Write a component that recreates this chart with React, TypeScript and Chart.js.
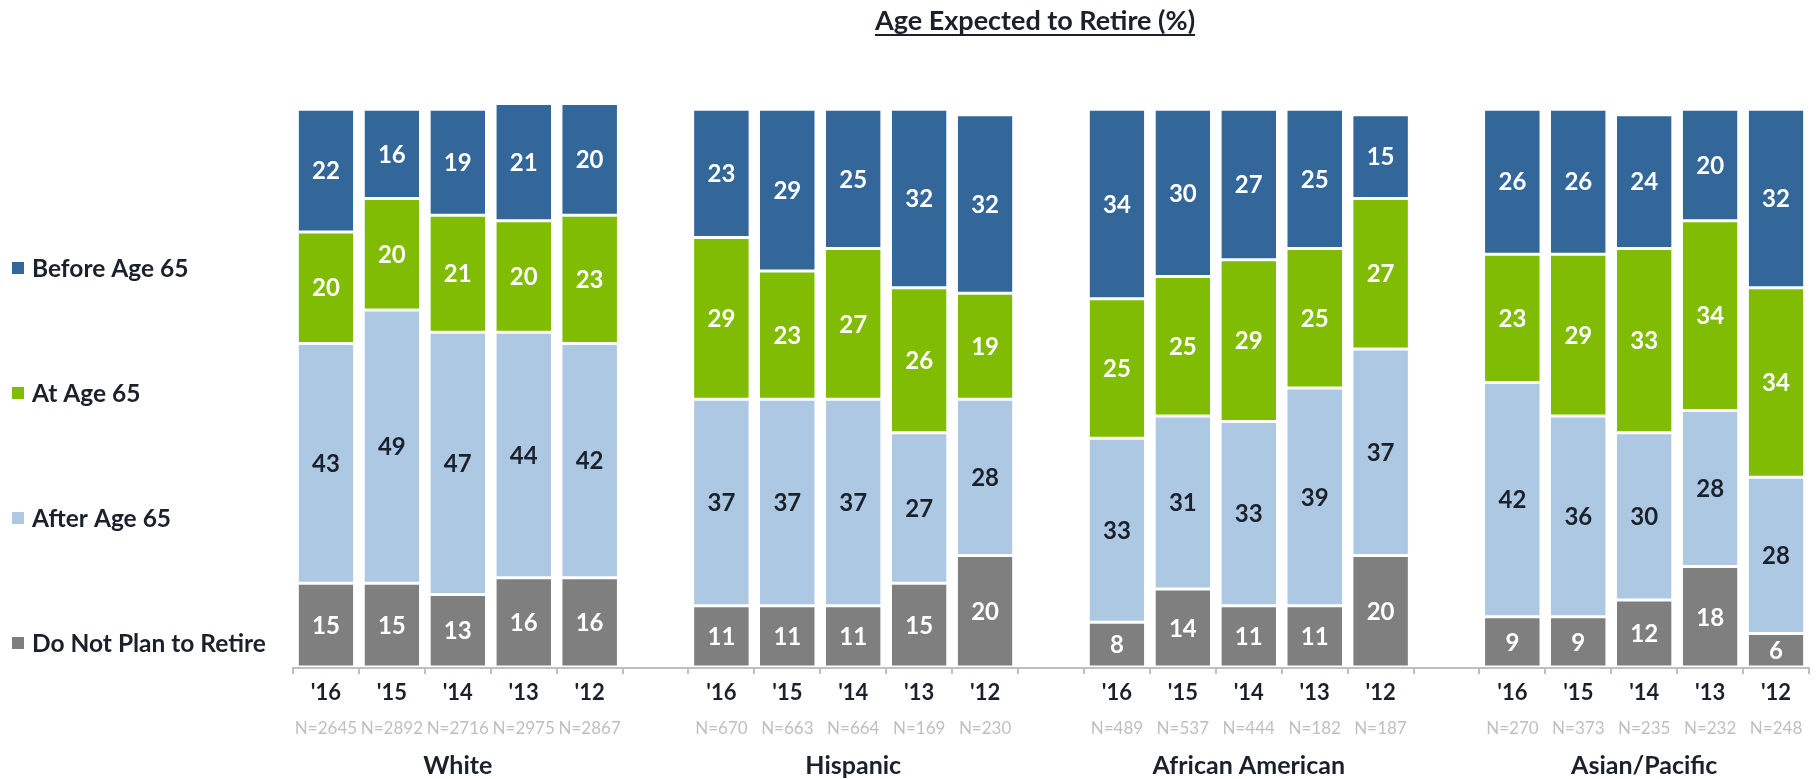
import React, { useEffect, useRef } from "react";
import { Chart, registerables } from "chart.js";

Chart.register(...registerables);

const groups = ["White", "Hispanic", "African American", "Asian/Pacific"];
const years = ["'16", "'15", "'14", "'13", "'12"];
const sampleSizes = [
  ["N=2645", "N=2892", "N=2716", "N=2975", "N=2867"],
  ["N=670", "N=663", "N=664", "N=169", "N=230"],
  ["N=489", "N=537", "N=444", "N=182", "N=187"],
  ["N=270", "N=373", "N=235", "N=232", "N=248"],
];

const beforeAge65 = [
  [22, 16, 19, 21, 20],
  [23, 29, 25, 32, 32],
  [34, 30, 27, 25, 15],
  [26, 26, 24, 20, 32],
];
const atAge65 = [
  [20, 20, 21, 20, 23],
  [29, 23, 27, 26, 19],
  [25, 25, 29, 25, 27],
  [23, 29, 33, 34, 34],
];
const afterAge65 = [
  [43, 49, 47, 44, 42],
  [37, 37, 37, 27, 28],
  [33, 31, 33, 39, 37],
  [42, 36, 30, 28, 28],
];
const doNotPlan = [
  [15, 15, 13, 16, 16],
  [11, 11, 11, 15, 20],
  [8, 14, 11, 11, 20],
  [9, 9, 12, 18, 6],
];

const seriesNames = ["Do Not Plan to Retire", "After Age 65", "At Age 65", "Before Age 65"];
const seriesColors = ["#7F7F7F", "#ADC8E3", "#7FBC03", "#336699"];
const labelColors = ["#FFFFFF", "#1B212B", "#FFFFFF", "#FFFFFF"];

// flatten groups with one empty slot between groups
function flatten<T>(arr: T[][], blank: T): T[] {
  const out: T[] = [];
  arr.forEach((g, i) => {
    if (i > 0) out.push(blank);
    g.forEach((v) => out.push(v));
  });
  return out;
}

const FONT = "Lato, 'Open Sans', sans-serif";
const DARK = "#1B212B";

export default function App() {
  const ref = useRef<HTMLCanvasElement | null>(null);

  useEffect(() => {
    const canvas = ref.current;
    if (!canvas) return;

    const labels = flatten(groups.map(() => years), "");
    const nLabels = flatten(sampleSizes, "");
    const seriesData = [doNotPlan, afterAge65, atAge65, beforeAge65].map((s) =>
      flatten<number | null>(s, null)
    );

    const decor = {
      id: "decor",
      afterDatasetsDraw(chart: any) {
        const ctx = chart.ctx;
        ctx.save();
        ctx.textAlign = "center";
        ctx.textBaseline = "middle";
        ctx.font = `bold 24px ${FONT}`;
        chart.data.datasets.forEach((ds: any, di: number) => {
          const meta = chart.getDatasetMeta(di);
          meta.data.forEach((el: any, i: number) => {
            const v = ds.data[i];
            if (v == null) return;
            const y = (el.y + el.base) / 2;
            ctx.fillStyle = labelColors[di];
            ctx.fillText(String(v), el.x, y + 1);
          });
        });
        ctx.restore();
      },
      afterDraw(chart: any) {
        const ctx = chart.ctx;
        const xs = chart.scales.x;
        const area = chart.chartArea;
        const n = chart.data.labels.length;
        const cw = (area.right - area.left) / n;
        const axisY = area.bottom + 1;
        ctx.save();
        // axis
        ctx.strokeStyle = "#BFBFBF";
        ctx.lineWidth = 2;
        ctx.beginPath();
        ctx.moveTo(area.left, axisY);
        ctx.lineTo(area.right, axisY);
        for (let i = 0; i <= n; i++) {
          const x = Math.round(area.left + i * cw);
          ctx.moveTo(x, axisY - 1);
          ctx.lineTo(x, axisY + 6);
        }
        ctx.stroke();

        // tick labels
        ctx.textAlign = "center";
        ctx.textBaseline = "middle";
        for (let i = 0; i < n; i++) {
          const lab = chart.data.labels[i];
          if (!lab) continue;
          const x = xs.getPixelForValue(i);
          ctx.font = `bold 22px ${FONT}`;
          ctx.fillStyle = DARK;
          ctx.fillText(lab, x, 693);
          ctx.font = `17px ${FONT}`;
          ctx.fillStyle = "#BFBFBF";
          ctx.fillText(nLabels[i], x, 729);
        }
        // group labels, centered under middle bar of group
        ctx.font = `bold 25px ${FONT}`;
        ctx.fillStyle = DARK;
        groups.forEach((g, gi) => {
          const idx = gi * 6 + 2;
          ctx.fillText(g, xs.getPixelForValue(idx), 766);
        });

        // legend
        const legendY = [643, 518, 393, 268];
        ctx.textAlign = "left";
        ctx.font = `bold 24.5px ${FONT}`;
        seriesNames.forEach((name, i) => {
          ctx.fillStyle = seriesColors[i];
          ctx.fillRect(12, legendY[i] - 6, 12, 12);
          ctx.fillStyle = DARK;
          ctx.fillText(name, 32, legendY[i] + 1);
        });

        // title
        const title = "Age Expected to Retire (%)";
        ctx.font = `bold 27px ${FONT}`;
        ctx.textAlign = "center";
        ctx.textBaseline = "alphabetic";
        ctx.fillStyle = DARK;
        const tx = 1035;
        ctx.fillText(title, tx, 30);
        const w = ctx.measureText(title).width;
        ctx.fillRect(tx - w / 2, 34, w, 2);
        ctx.restore();
      },
    };

    const chart = new Chart(canvas, {
      type: "bar",
      data: {
        labels,
        datasets: seriesData.map((d, i) => ({
          label: seriesNames[i],
          data: d,
          backgroundColor: seriesColors[i],
          borderColor: "#FFFFFF",
          borderWidth: { top: 1.5, bottom: 1.5, left: 0, right: 0 },
          borderSkipped: false,
          barPercentage: 0.83,
          categoryPercentage: 1,
        })),
      },
      options: {
        animation: false,
        responsive: false,
        layout: { padding: { left: 293, right: 10, top: 98, bottom: 112 } },
        plugins: { legend: { display: false }, tooltip: { enabled: false }, title: { display: false } },
        scales: {
          x: { stacked: true, display: false },
          y: { stacked: true, display: false, min: 0, max: 102 },
        },
      },
      plugins: [decor],
    });
    return () => chart.destroy();
  }, []);

  return (
    <div style={{ position: "absolute", left: 0, top: 0, width: 1819, height: 779, background: "#fff" }}>
      <canvas ref={ref} width={1819} height={779} style={{ display: "block" }} />
    </div>
  );
}
